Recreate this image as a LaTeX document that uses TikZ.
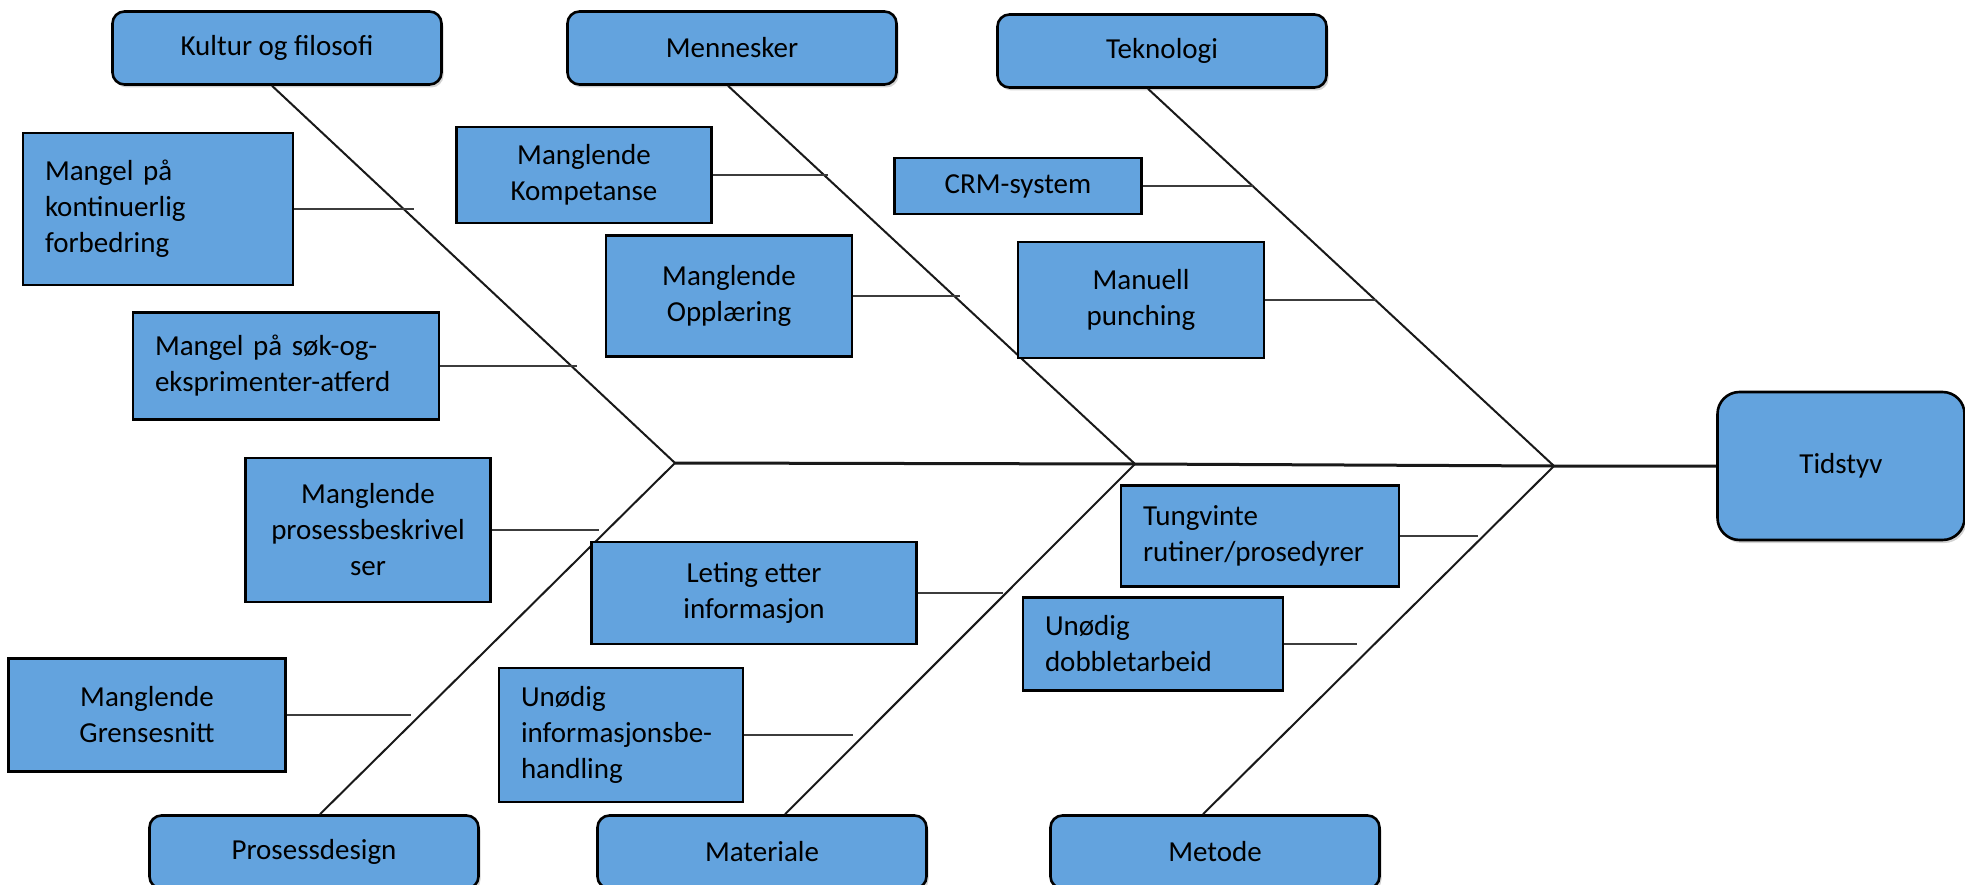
\documentclass[tikz,border=0pt]{standalone}
\usepackage{fontspec}
\setmainfont{Carlito}
\usepackage{tikz}
\usetikzlibrary{shadows}
\definecolor{fishblue}{RGB}{99,163,222}
\definecolor{bonedark}{RGB}{25,25,25}
\tikzset{
  catbox/.style={rectangle, draw=black, fill=fishblue, line width=2.6pt,
    rounded corners=12pt, minimum width=329pt, minimum height=73pt,
    align=center, drop shadow={shadow xshift=2pt, shadow yshift=-3pt, opacity=0.35}},
  headbox/.style={catbox, minimum width=247pt, minimum height=148pt, rounded corners=22pt},
  causebox/.style={rectangle, draw=black, fill=fishblue, line width=2.2pt,
    inner sep=0pt, align=center},
  leftbox/.style={causebox, align=left},
  spine/.style={line width=3pt, color=bonedark},
  bone/.style={line width=2pt, color=bonedark},
  twig/.style={line width=2pt, color=bonedark!85}
}

\begin{document}
\begin{tikzpicture}[x=1pt, y=-1pt, every node/.style={font=\fontsize{29}{36}\selectfont}]
  \useasboundingbox (0,0) rectangle (1965,885);

  % Kategorier (hoder)
  \node[catbox] (kul) at (277,48) {Kultur og filosofi};
  \node[catbox] (men) at (732,48) {Mennesker};
  \node[catbox] (tek) at (1162,51) {Teknologi};
  \node[catbox] (pro) at (314,852) {Prosessdesign};
  \node[catbox] (mat) at (762,852) {Materiale};
  \node[catbox] (met) at (1215,852) {Metode};
  \node[headbox] (tid) at (1841,466) {Tidstyv};

  % Fiskebein
  \coordinate (j1) at (675,463);
  \coordinate (j2) at (1135,464);
  \coordinate (j3) at (1554,466);
  \draw[spine] (j1) -- (j2) -- (j3) -- (tid.west);
  \draw[bone] ([xshift=-5pt]kul.south) -- (j1);
  \draw[bone] ([xshift=-4pt]men.south) -- (j2);
  \draw[bone] ([xshift=-14pt]tek.south) -- (j3);
  \draw[bone] ([xshift=6pt]pro.north) -- (j1);
  \draw[bone] ([xshift=23pt]mat.north) -- (j2);
  \draw[bone] ([xshift=-12pt]met.north) -- (j3);

  % Årsaker
  \node[leftbox, minimum width=270pt, minimum height=152pt, text width=226pt] (kont) at (158,209) {Mangel på\\kontinuerlig\\forbedring};
  \node[leftbox, minimum width=306pt, minimum height=107pt, text width=262pt] (sok) at (286,366) {Mangel på søk-og-\\eksprimenter-atferd};
  \node[causebox, minimum width=255pt, minimum height=96pt] (komp) at (584,175) {Manglende\\Kompetanse};
  \node[causebox, minimum width=246pt, minimum height=121pt] (oppl) at (729,296) {Manglende\\Opplæring};
  \node[causebox, minimum width=247pt, minimum height=56pt] (crm) at (1018,186) {CRM-system};
  \node[causebox, minimum width=246pt, minimum height=116pt] (manu) at (1141,300) {Manuell\\punching};
  \node[causebox, minimum width=245pt, minimum height=144pt] (besk) at (368,530) {Manglende\\prosessbeskrivel\\ser};
  \node[causebox, minimum width=325pt, minimum height=102pt] (let) at (754,593) {Leting etter\\informasjon};
  \node[causebox, minimum width=277pt, minimum height=113pt] (gren) at (147,715) {Manglende\\Grensesnitt};
  \node[leftbox, minimum width=244pt, minimum height=134pt, text width=200pt] (info) at (621,735) {Unødig\\informasjonsbe-\\handling};
  \node[leftbox, minimum width=278pt, minimum height=101pt, text width=234pt] (tung) at (1260,536) {Tungvinte\\rutiner/prosedyrer};
  \node[leftbox, minimum width=260pt, minimum height=93pt, text width=216pt] (dobb) at (1153,644) {Unødig\\dobbletarbeid};

  % Kvister
  \draw[twig] (kont.east) -- ++(120,0);
  \draw[twig] (sok.east) -- ++(137,0);
  \draw[twig] (komp.east) -- ++(115,0);
  \draw[twig] (oppl.east) -- ++(107,0);
  \draw[twig] (crm.east) -- ++(110,0);
  \draw[twig] (manu.east) -- ++(111,0);
  \draw[twig] (besk.east) -- ++(107,0);
  \draw[twig] (let.east) -- ++(85,0);
  \draw[twig] (gren.east) -- ++(124,0);
  \draw[twig] (info.east) -- ++(109,0);
  \draw[twig] (tung.east) -- ++(78,0);
  \draw[twig] (dobb.east) -- ++(73,0);
\end{tikzpicture}
\end{document}
